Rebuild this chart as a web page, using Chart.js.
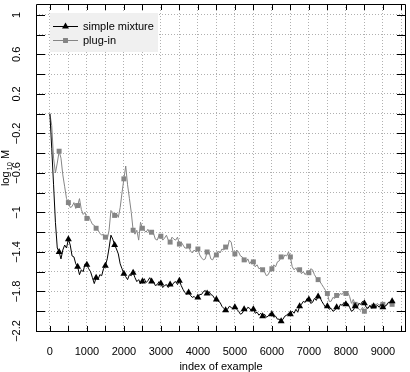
<!DOCTYPE html>
<html>
<head>
<meta charset="utf-8">
<script src="https://cdn.jsdelivr.net/npm/chart.js@4.4.1/dist/chart.umd.min.js"></script>
<style>
    html, body { margin: 0; padding: 0; background: #fff; }
    #wrap { width: 410px; height: 372px; }
</style>
</head>
<body>
<div id="wrap"><canvas id="lossChart" width="410" height="372"></canvas></div>
<script>
// index of example (x values shared by both series), one row per 500
const exampleIndex = [
    0, 50, 100, 150, 200, 250, 300, 350, 400, 450,
    500, 550, 600, 650, 700, 750, 800, 850, 900, 950,
    1000, 1050, 1100, 1150, 1200, 1250, 1300, 1350, 1400, 1450,
    1500, 1550, 1600, 1650, 1700, 1750, 1800, 1850, 1900, 1950,
    2000, 2050, 2100, 2150, 2200, 2250, 2300, 2350, 2400, 2450,
    2500, 2550, 2600, 2650, 2700, 2750, 2800, 2850, 2900, 2950,
    3000, 3050, 3100, 3150, 3200, 3250, 3300, 3350, 3400, 3450,
    3500, 3550, 3600, 3650, 3700, 3750, 3800, 3850, 3900, 3950,
    4000, 4050, 4100, 4150, 4200, 4250, 4300, 4350, 4400, 4450,
    4500, 4550, 4600, 4650, 4700, 4750, 4800, 4850, 4900, 4950,
    5000, 5050, 5100, 5150, 5200, 5250, 5300, 5350, 5400, 5450,
    5500, 5550, 5600, 5650, 5700, 5750, 5800, 5850, 5900, 5950,
    6000, 6050, 6100, 6150, 6200, 6250, 6300, 6350, 6400, 6450,
    6500, 6550, 6600, 6650, 6700, 6750, 6800, 6850, 6900, 6950,
    7000, 7050, 7100, 7150, 7200, 7250, 7300, 7350, 7400, 7450,
    7500, 7550, 7600, 7650, 7700, 7750, 7800, 7850, 7900, 7950,
    8000, 8050, 8100, 8150, 8200, 8250, 8300, 8350, 8400, 8450,
    8500, 8550, 8600, 8650, 8700, 8750, 8800, 8850, 8900, 8950,
    9000, 9050, 9100, 9150, 9200, 9250
];

// log10 M, simple mixture
const simpleMixture = [
    0, -0.35, -0.72, -1.10, -1.36, -1.40, -1.47, -1.38, -1.33, -1.36,
    -1.27, -1.33, -1.44, -1.45, -1.52, -1.55, -1.63, -1.58, -1.60, -1.52,
    -1.53, -1.57, -1.60, -1.66, -1.72, -1.66, -1.68, -1.63, -1.64, -1.57,
    -1.54, -1.47, -1.36, -1.23, -1.27, -1.33, -1.37, -1.42, -1.52, -1.57,
    -1.62, -1.65, -1.68, -1.63, -1.64, -1.61, -1.66, -1.70, -1.68, -1.72,
    -1.70, -1.67, -1.71, -1.69, -1.66, -1.70, -1.70, -1.74, -1.73, -1.70,
    -1.72, -1.76, -1.74, -1.73, -1.76, -1.73, -1.74, -1.71, -1.70, -1.73,
    -1.69, -1.74, -1.78, -1.81, -1.83, -1.81, -1.84, -1.86, -1.85, -1.87,
    -1.86, -1.83, -1.83, -1.80, -1.79, -1.82, -1.80, -1.83, -1.84, -1.87,
    -1.88, -1.90, -1.91, -1.95, -1.97, -1.99, -1.98, -1.95, -1.96, -1.98,
    -1.96, -1.98, -2.00, -2.03, -2.02, -1.98, -1.99, -1.96, -1.97, -2.00,
    -1.98, -2.02, -2.01, -2.04, -2.02, -2.05, -2.03, -2.06, -2.05, -2.02,
    -2.03, -2.06, -2.05, -2.08, -2.08, -2.10, -2.08, -2.05, -2.04, -2.02,
    -2.03, -2.00, -2.02, -1.98, -2.01, -1.95, -1.93, -1.90, -1.91, -1.87,
    -1.88, -1.92, -1.91, -1.87, -1.89, -1.85, -1.86, -1.90, -1.93, -1.96,
    -1.95, -1.98, -1.97, -2.00, -1.99, -1.96, -1.98, -1.93, -1.94, -1.91,
    -1.93, -1.92, -1.96, -2.00, -1.99, -1.95, -1.97, -1.92, -1.93, -1.90,
    -1.92, -1.96, -1.97, -1.94, -1.97, -1.95, -1.96, -1.94, -1.96, -1.93,
    -1.96, -1.95, -1.94, -1.91, -1.91, -1.90
];

// log10 M, plug-in
const plugIn = [
    0, -0.12, -0.45, -0.60, -0.50, -0.38, -0.45, -0.62, -0.74, -0.86,
    -0.90, -0.95, -0.94, -0.90, -0.96, -0.93, -0.86, -0.97, -1.02, -1.00,
    -1.06, -1.04, -1.08, -1.12, -1.13, -1.16, -1.18, -1.21, -1.23, -1.22,
    -1.25, -1.27, -1.18, -0.98, -1.00, -1.03, -1.01, -1.05, -0.95, -0.80,
    -0.66, -0.53, -0.72, -0.86, -1.00, -1.18, -1.22, -1.18, -1.28, -1.10,
    -1.16, -1.18, -1.20, -1.17, -1.22, -1.20, -1.21, -1.27, -1.28, -1.23,
    -1.24, -1.28, -1.26, -1.23, -1.28, -1.30, -1.25, -1.27, -1.28, -1.25,
    -1.32, -1.30, -1.33, -1.36, -1.36, -1.34, -1.39, -1.41, -1.38, -1.40,
    -1.37, -1.43, -1.46, -1.48, -1.47, -1.40, -1.40, -1.47, -1.48, -1.44,
    -1.43, -1.39, -1.41, -1.37, -1.38, -1.35, -1.36, -1.28, -1.30, -1.40,
    -1.42, -1.38, -1.40, -1.44, -1.45, -1.48, -1.50, -1.47, -1.52, -1.49,
    -1.50, -1.55, -1.53, -1.57, -1.56, -1.58, -1.60, -1.64, -1.63, -1.59,
    -1.57, -1.53, -1.55, -1.50, -1.49, -1.45, -1.47, -1.43, -1.44, -1.40,
    -1.45, -1.55, -1.58, -1.56, -1.60, -1.58, -1.62, -1.60, -1.63, -1.60,
    -1.61, -1.57, -1.58, -1.63, -1.66, -1.68, -1.70, -1.73, -1.76, -1.79,
    -1.82, -1.90, -1.90, -1.86, -1.87, -1.84, -1.85, -1.82, -1.83, -1.80,
    -1.82, -1.81, -1.85, -1.92, -1.88, -1.93, -1.95, -1.98, -1.99, -1.96,
    -2.00, -1.97, -1.97, -1.94, -1.97, -1.95, -1.95, -1.92, -1.94, -1.92,
    -1.93, -1.95, -1.93, -1.91, -1.92, -1.93
];

const xTickPositions = [0, 500, 1000, 1500, 2000, 2500, 3000, 3500, 4000, 4500,
    5000, 5500, 6000, 6500, 7000, 7500, 8000, 8500, 9000, 9500];
const xTickLabels = [0, 1000, 2000, 3000, 4000, 5000, 6000, 7000, 8000, 9000];
const yTickLabels = [-2.2, -1.8, -1.4, -1, -0.6, -0.2, 0.2, 0.6, 1];

const FONT = '"Liberation Sans", Arial, Helvetica, sans-serif';

function toPoints(values) {
    return values.map((v, i) => ({ x: exampleIndex[i], y: v }));
}

function markerRadius(size) {
    return function (c) {
        const x = c.raw ? c.raw.x : 0;
        return x > 0 && x % 250 === 0 ? size : 0;
    };
}

// box with inward tick marks on all four sides
const framePlugin = {
    id: 'frame',
    afterDatasetsDraw(chart) {
        const { ctx, chartArea: { left, right, top, bottom }, scales: { x, y } } = chart;
        ctx.save();
        ctx.strokeStyle = '#000';
        ctx.lineWidth = 1;
        ctx.beginPath();
        ctx.rect(left + 0.5, top + 0.5, right - left - 1, bottom - top - 1);
        x.ticks.forEach((t) => {
            const px = Math.round(x.getPixelForValue(t.value)) + 0.5;
            ctx.moveTo(px, bottom);
            ctx.lineTo(px, bottom - 6);
            ctx.moveTo(px, top);
            ctx.lineTo(px, top + 6);
        });
        y.ticks.forEach((t) => {
            const py = Math.round(y.getPixelForValue(t.value)) + 0.5;
            ctx.moveTo(left, py);
            ctx.lineTo(left + 9, py);
            ctx.moveTo(right, py);
            ctx.lineTo(right - 9, py);
        });
        ctx.stroke();
        ctx.restore();
    }
};

const legendBoxPlugin = {
    id: 'legendBox',
    afterDatasetsDraw(chart) {
        const { ctx } = chart;
        ctx.save();
        ctx.fillStyle = '#f0f0f0';
        ctx.fillRect(50, 13, 108, 39);
        chart.data.datasets.forEach((ds, i) => {
            const rowY = 26.5 + i * 14;
            ctx.strokeStyle = ds.borderColor;
            ctx.lineWidth = 1;
            ctx.beginPath();
            ctx.moveTo(53, rowY);
            ctx.lineTo(78, rowY);
            ctx.stroke();
            ctx.fillStyle = ds.pointBackgroundColor;
            Chart.helpers.drawPoint(ctx, {
                pointStyle: ds.pointStyle,
                radius: ds.legendRadius,
                rotation: 0,
                borderWidth: 0
            }, 65.5, rowY);
            ctx.fillStyle = '#000';
            ctx.font = '11px ' + FONT;
            ctx.textBaseline = 'middle';
            ctx.textAlign = 'left';
            ctx.fillText(ds.label, 83, rowY);
        });
        ctx.restore();
    }
};

// y axis title with subscript: log10 M
const yTitlePlugin = {
    id: 'yTitle',
    afterDraw(chart) {
        const { ctx, chartArea: { top, bottom } } = chart;
        ctx.save();
        ctx.translate(9, (top + bottom) / 2);
        ctx.rotate(-Math.PI / 2);
        ctx.fillStyle = '#000';
        ctx.textBaseline = 'alphabetic';
        ctx.textAlign = 'left';
        const bigFont = '11px ' + FONT;
        const smallFont = '7.5px ' + FONT;
        ctx.font = bigFont;
        const wLog = ctx.measureText('log').width;
        const wM = ctx.measureText(' M').width;
        ctx.font = smallFont;
        const wSub = ctx.measureText('10').width;
        let cx = -(wLog + wSub + wM + 1) / 2;
        ctx.font = bigFont;
        ctx.fillText('log', cx, 0);
        cx += wLog + 1;
        ctx.font = smallFont;
        ctx.fillText('10', cx, 2.5);
        cx += wSub;
        ctx.font = bigFont;
        ctx.fillText(' M', cx, 0);
        ctx.restore();
    }
};

const gridStyle = {
    color: '#b0b0b0',
    lineWidth: 1,
    drawTicks: false
};

const lossChart = new Chart(document.getElementById('lossChart'), {
    type: 'line',
    data: {
        datasets: [
            {
                label: 'simple mixture',
                data: toPoints(simpleMixture),
                borderColor: '#000000',
                backgroundColor: '#000000',
                pointBackgroundColor: '#000000',
                pointStyle: 'triangle',
                pointRadius: markerRadius(4),
                pointBorderWidth: 0,
                legendRadius: 4,
                borderWidth: 1,
                tension: 0,
                fill: false
            },
            {
                label: 'plug-in',
                data: toPoints(plugIn),
                borderColor: '#858585',
                backgroundColor: '#858585',
                pointBackgroundColor: '#858585',
                pointStyle: 'rect',
                pointRadius: markerRadius(3.5),
                pointBorderWidth: 0,
                legendRadius: 3.5,
                borderWidth: 1,
                tension: 0,
                fill: false
            }
        ]
    },
    options: {
        responsive: false,
        animation: false,
        devicePixelRatio: 1,
        layout: { padding: 0 },
        plugins: {
            legend: { display: false },
            tooltip: { enabled: false }
        },
        scales: {
            x: {
                type: 'linear',
                position: 'bottom',
                min: -375,
                max: 9625,
                grid: gridStyle,
                border: { display: false, dash: [1, 2] },
                afterBuildTicks: (axis) => {
                    axis.ticks = xTickPositions.map((v) => ({ value: v }));
                },
                ticks: {
                    autoSkip: false,
                    maxRotation: 0,
                    minRotation: 0,
                    padding: 13,
                    color: '#000',
                    font: { family: FONT, size: 11 },
                    callback: (value) => xTickLabels.includes(value) ? String(value) : ''
                },
                title: {
                    display: true,
                    text: 'index of example',
                    color: '#000',
                    padding: 0,
                    font: { family: FONT, size: 11, lineHeight: 1 }
                },
                afterFit: (scale) => {
                    scale.height = 40;
                    scale.paddingLeft = 0;
                    scale.paddingRight = 0;
                }
            },
            y: {
                type: 'linear',
                min: -2.21,
                max: 1.11,
                grid: gridStyle,
                border: { display: false, dash: [1, 2] },
                ticks: {
                    stepSize: 0.2,
                    includeBounds: false,
                    autoSkip: false,
                    minRotation: 90,
                    maxRotation: 90,
                    crossAlign: 'center',
                    padding: 8,
                    color: '#000',
                    font: { family: FONT, size: 11 },
                    callback: (value) => {
                        const hit = yTickLabels.find((t) => Math.abs(t - value) < 1e-6);
                        return hit === undefined ? '' : String(hit).replace('-', '\u2212');
                    }
                },
                afterFit: (scale) => {
                    scale.width = 36;
                    scale.paddingTop = 0;
                    scale.paddingBottom = 0;
                }
            }
        }
    },
    plugins: [framePlugin, legendBoxPlugin, yTitlePlugin]
});
</script>
</body>
</html>
